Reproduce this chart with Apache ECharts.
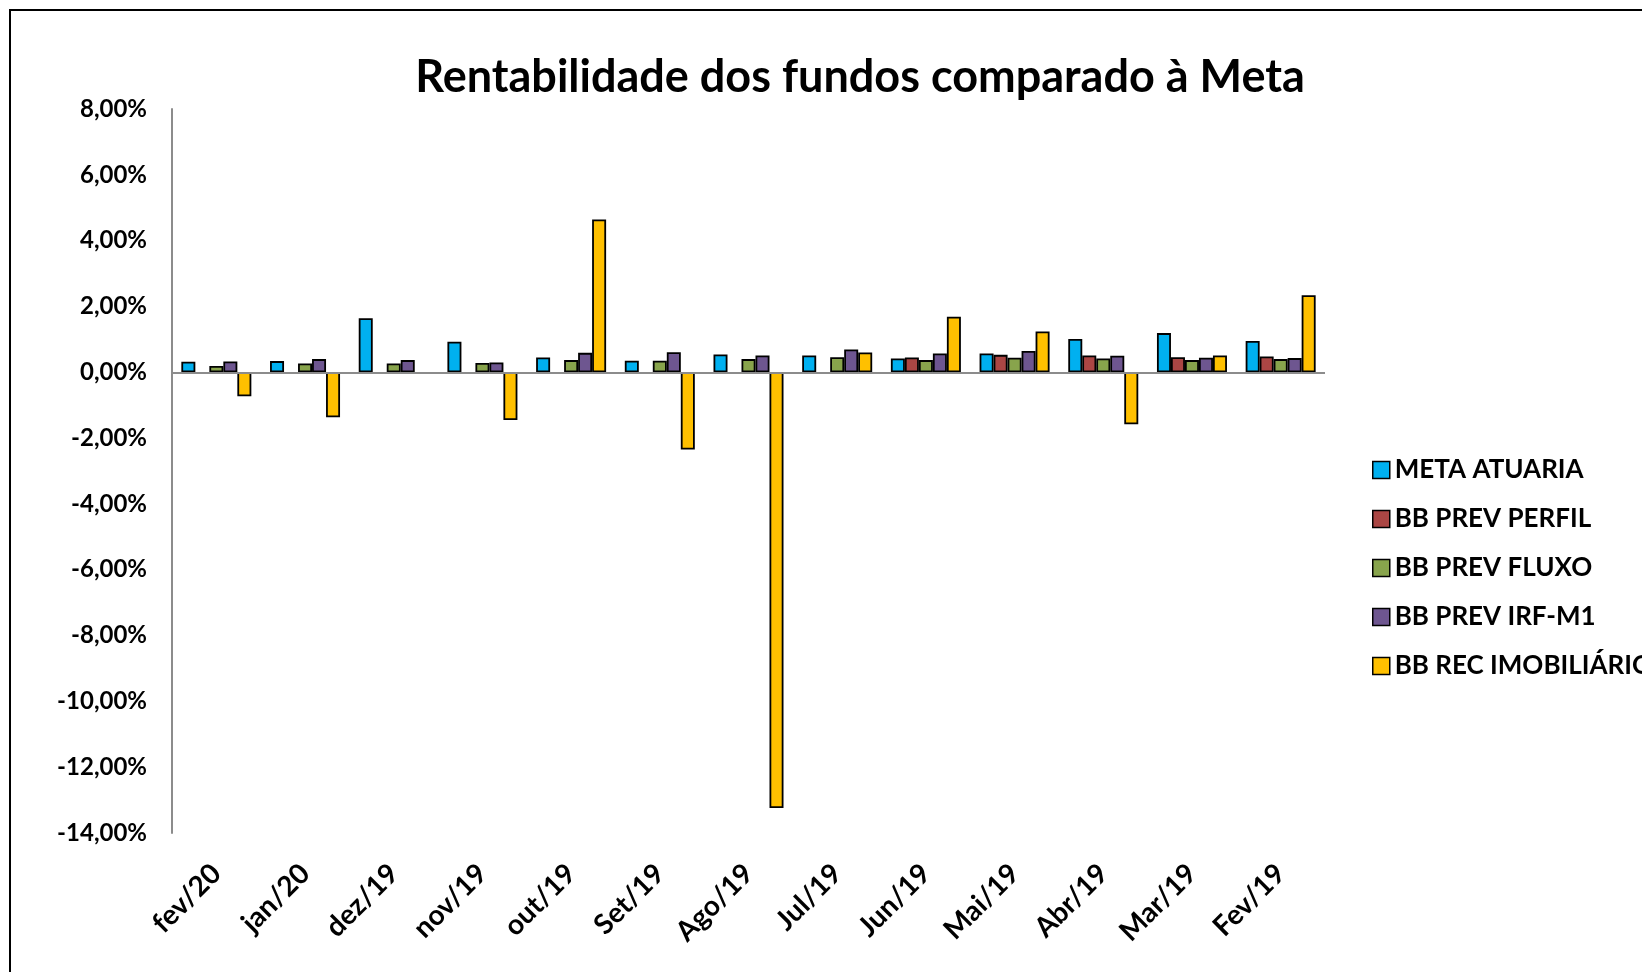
<!DOCTYPE html>
<html>
<head>
<meta charset="utf-8">
<script src="https://cdn.jsdelivr.net/npm/echarts@6/dist/echarts.min.js"></script>
<style>
  html, body { margin: 0; padding: 0; background: #fff; }
  #chart { width: 1642px; height: 972px; }
</style>
</head>
<body>
<div id="chart"></div>
<script>
var categories = ['fev/20', 'jan/20', 'dez/19', 'nov/19', 'out/19', 'Set/19', 'Ago/19', 'Jul/19', 'Jun/19', 'Mai/19', 'Abr/19', 'Mar/19', 'Fev/19'];

var metaAtuaria   = [0.32, 0.34, 1.64, 0.93, 0.45, 0.35, 0.54, 0.51, 0.42, 0.57, 1.01, 1.19, 0.95];
var bbPrevPerfil  = [null, null, null, null, null, null, null, null, 0.45, 0.53, 0.51, 0.46, 0.48];
var bbPrevFluxo   = [0.19, 0.27, 0.27, 0.28, 0.37, 0.35, 0.40, 0.46, 0.37, 0.44, 0.42, 0.37, 0.40];
var bbPrevIrfM1   = [0.33, 0.40, 0.37, 0.30, 0.59, 0.61, 0.51, 0.69, 0.57, 0.65, 0.50, 0.44, 0.43];
var bbRecImob     = [-0.73, -1.37, -0.04, -1.45, 4.64, -2.35, -13.24, 0.60, 1.69, 1.24, -1.58, 0.51, 2.34];

var seriesNames = ['META ATUARIA', 'BB PREV PERFIL', 'BB PREV FLUXO', 'BB PREV IRF-M1', 'BB REC IMOBILIÁRIO'];
var seriesData = [metaAtuaria, bbPrevPerfil, bbPrevFluxo, bbPrevIrfM1, bbRecImob];
var colors = ['#00B0F0', '#AB4644', '#88A44C', '#6E5690', '#FFC000'];

var font = 'Lato, "Open Sans", sans-serif';

var series = [];
for (var i = 0; i < seriesData.length; i++) {
    series.push({
        name: seriesNames[i],
        type: 'bar',
        data: seriesData[i],
        barWidth: 14,
        barGap: '0%',
        itemStyle: { color: colors[i], borderColor: '#000', borderWidth: 1.8 }
    });
}
// zero line like Excel's horizontal axis
series[0].markLine = {
    silent: true,
    symbol: 'none',
    label: { show: false },
    lineStyle: { color: '#8c8c8c', type: 'solid', width: 2 },
    data: [{ yAxis: 0 }]
};

var myChart = echarts.init(document.getElementById('chart'));
var option = {
    animation: false,
    backgroundColor: '#fff',
    graphic: [{
        type: 'rect',
        shape: { x: 10, y: 10, width: 1700, height: 1000 },
        style: { fill: 'none', stroke: '#000', lineWidth: 2 }
    }],
    title: {
        text: 'Rentabilidade dos fundos comparado à Meta',
        left: 855,
        top: 50,
        textAlign: 'center',
        textStyle: { fontFamily: font, fontWeight: 'bold', fontSize: 45, color: '#000' }
    },
    legend: {
        orient: 'vertical',
        left: 1367,
        top: 452,
        itemWidth: 17,
        itemHeight: 17,
        itemGap: 23,
        icon: 'rect',
        itemStyle: { borderColor: '#000', borderWidth: 1.5 },
        textStyle: { fontFamily: font, fontWeight: 'bold', fontSize: 26, color: '#000' },
        data: seriesNames
    },
    grid: { left: 172, right: 317, top: 109, bottom: 139 },
    xAxis: {
        type: 'category',
        data: categories,
        axisLine: { show: false },
        axisTick: { show: false },
        axisLabel: {
            rotate: 45,
            interval: 0,
            margin: 36,
            fontFamily: font,
            fontWeight: 'bold',
            fontSize: 28,
            color: '#000'
        }
    },
    yAxis: {
        type: 'value',
        min: -14,
        max: 8,
        interval: 2,
        splitLine: { show: false },
        axisLine: { show: true, lineStyle: { color: '#8c8c8c', width: 2 } },
        axisTick: { show: false },
        axisLabel: {
            margin: 25,
            fontFamily: font,
            fontWeight: 'bold',
            fontSize: 24,
            color: '#000',
            formatter: function (v) { return v.toFixed(2).replace('.', ',') + '%'; }
        }
    },
    series: series
};
myChart.setOption(option);
</script>
</body>
</html>
